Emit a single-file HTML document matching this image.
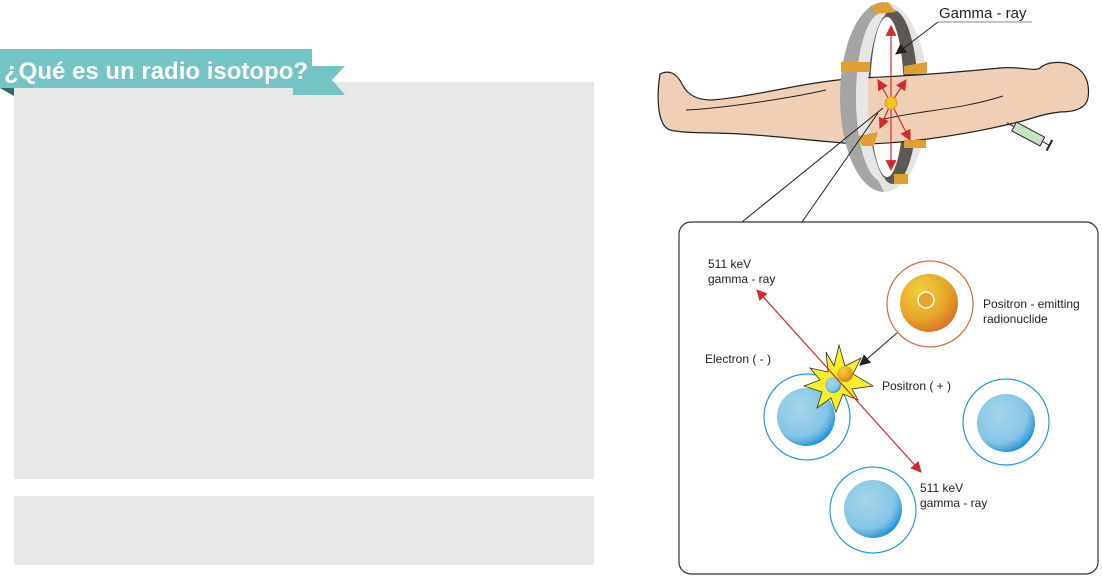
<!DOCTYPE html>
<html><head><meta charset="utf-8"><style>
html,body{margin:0;padding:0;background:#fff;width:1102px;height:576px;overflow:hidden}
svg{display:block}
text{font-family:"Liberation Sans",sans-serif;fill:#222}
</style></head><body>
<svg width="1102" height="576" viewBox="0 0 1102 576">
<defs>
<radialGradient id="bl" cx="0.38" cy="0.35" r="0.7"><stop offset="0" stop-color="#a6d6ec"/><stop offset="0.7" stop-color="#84c5e5"/><stop offset="0.85" stop-color="#55aadf"/><stop offset="1" stop-color="#0a8fd6"/></radialGradient>
<radialGradient id="or" cx="0.35" cy="0.3" r="0.8"><stop offset="0" stop-color="#f3cf3a"/><stop offset="0.6" stop-color="#e6a52a"/><stop offset="1" stop-color="#d4692a"/></radialGradient>
<marker id="ar" viewBox="0 0 10 10" refX="9" refY="5" markerUnits="userSpaceOnUse" markerWidth="11" markerHeight="11" orient="auto"><path d="M0,0L10,5L0,10z" fill="#d42a2a"/></marker>
<marker id="ak" viewBox="0 0 10 10" refX="9" refY="5" markerUnits="userSpaceOnUse" markerWidth="11" markerHeight="11" orient="auto"><path d="M0,0L10,5L0,10z" fill="#222"/></marker>
</defs>
<rect x="14" y="82" width="580" height="397" fill="#e7e8e7"/>
<rect x="14" y="496" width="580" height="69" fill="#e7e8e7"/>
<polygon points="0,88 14,88 14,96" fill="#2e6b6b"/>
<polygon points="293,88 312,88 293,95" fill="#2e6b6b"/>
<polygon points="293,66 345,66 332,80 345,95 293,95" fill="#74c4c4"/>
<rect x="0" y="49" width="312" height="39" fill="#74c4c4"/>
<text x="4" y="79" font-size="24" font-weight="bold" style="fill:#fff">¿Qué es un radio isotopo?</text>
<!-- ring back -->
<ellipse cx="884" cy="97" rx="44" ry="95" fill="#e4e4e4"/>
<ellipse cx="893" cy="97" rx="25" ry="87" fill="#5e5855"/>
<ellipse cx="887" cy="97" rx="17" ry="80" fill="#fff"/>
<!-- body -->
<path d="M660,74 C668,70 676,72 682,84 C688,96 698,100 712,100 C760,96 800,82 860,78 C910,76 960,72 1000,68 C1020,66 1035,72 1040,68 C1046,62 1062,60 1074,66 C1086,72 1090,84 1088,98 C1086,108 1075,112 1060,112 C1040,114 1030,120 1010,124 C960,136 900,144 860,144 C820,142 780,136 740,134 C710,132 688,134 670,130 C658,126 656,100 660,74 Z" fill="#efcfb6" stroke="#222" stroke-width="1.2"/>
<path d="M686,110 C730,108 800,96 826,90" fill="none" stroke="#222" stroke-width="1"/>
<path d="M880,120 C920,110 960,110 1003,96" fill="none" stroke="#222" stroke-width="1"/>
<g transform="rotate(28 1030 135)"><rect x="1012" y="130" width="32" height="10" fill="#c7e3c4" stroke="#222" stroke-width="1"/><line x1="1044" y1="135" x2="1052" y2="135" stroke="#222"/><line x1="1052" y1="129" x2="1052" y2="141" stroke="#222" stroke-width="2"/><line x1="1004" y1="135" x2="1012" y2="135" stroke="#222"/></g>
<!-- ring front left -->
<path d="M884,2 A44,95 0 0 0 884,192 L878,180 A26,84 0 0 1 878,14 Z" fill="#a5a5a3"/>
<path d="M878,14 A26,84 0 0 0 878,180 L886,178 A18,80 0 0 1 886,16 Z" fill="#e6e6e6"/>
<path d="M870,6 L888,2 L896,12 L876,14Z" fill="#e0a030"/>
<path d="M841,62 L870,62 L870,72 L841,72Z" fill="#e0a030"/>
<path d="M904,66 L927,62 L927,74 L904,74Z" fill="#e0a030"/>
<path d="M858,136 L878,132 L874,146 L862,146Z" fill="#e0a030"/>
<path d="M904,140 L926,140 L926,148 L904,148Z" fill="#e0a030"/>
<path d="M894,174 L908,174 L908,184 L894,184Z" fill="#e0a030"/>
<g stroke="#d42a2a" stroke-width="1.2" marker-end="url(#ar)">
<line x1="891" y1="103" x2="891" y2="26"/><line x1="891" y1="103" x2="891" y2="170"/>
<line x1="891" y1="103" x2="878" y2="80"/><line x1="891" y1="103" x2="906" y2="80"/>
<line x1="891" y1="103" x2="880" y2="128"/><line x1="891" y1="103" x2="910" y2="140"/>
</g>
<circle cx="891" cy="103" r="6" fill="#f2c21e" stroke="#e0a020"/>
<text x="939" y="18" font-size="15">Gamma - ray</text>
<line x1="938" y1="22" x2="1032" y2="22" stroke="#888"/>
<line x1="938" y1="22" x2="896" y2="54" stroke="#222" marker-end="url(#ak)"/>
<!-- callout -->
<rect x="679" y="222" width="419" height="352" rx="12" fill="#fff" stroke="#333" stroke-width="1.2"/>
<line x1="883" y1="108" x2="742" y2="222" stroke="#222" stroke-width="1"/>
<line x1="878" y1="113" x2="802" y2="222" stroke="#222" stroke-width="1"/>
<circle cx="930" cy="304" r="43" fill="none" stroke="#d56a3a" stroke-width="1.2"/>
<circle cx="929" cy="303" r="29" fill="url(#or)"/>
<circle cx="926" cy="300" r="8" fill="#e6a52a" stroke="#fff" stroke-width="1.5"/>
<circle cx="807" cy="417" r="43" fill="#fff" stroke="#1d9bd8" stroke-width="1.2"/>
<circle cx="806" cy="417" r="29" fill="url(#bl)"/>
<circle cx="1006" cy="422" r="43" fill="none" stroke="#1d9bd8" stroke-width="1.2"/>
<circle cx="1006" cy="423" r="29" fill="url(#bl)"/>
<circle cx="873" cy="510" r="43" fill="none" stroke="#1d9bd8" stroke-width="1.2"/>
<circle cx="873" cy="509" r="29" fill="url(#bl)"/>
<polygon points="839,345 845,366 861,358 853,374 873,386 852,389 858,400 843,394 836,412 831,398 817,408 822,392 804,386 820,380 810,368 828,372 826,352 834,366" fill="#f8ee2a" stroke="#333" stroke-width="0.8"/>
<circle cx="845" cy="374" r="8" fill="url(#or)"/>
<circle cx="833" cy="385" r="8" fill="url(#bl)"/>
<line x1="839" y1="381" x2="757" y2="290" stroke="#d42a2a" stroke-width="1.2" marker-end="url(#ar)"/>
<line x1="839" y1="381" x2="921" y2="472" stroke="#d42a2a" stroke-width="1.2" marker-end="url(#ar)"/>
<line x1="897" y1="333" x2="860" y2="365" stroke="#222" stroke-width="1" marker-end="url(#ak)"/>
<g font-size="12">
<text x="708" y="268">511 keV</text><text x="708" y="283">gamma - ray</text>
<text x="983" y="308">Positron  - emitting</text><text x="983" y="323">radionuclide</text>
<text x="705" y="363">Electron ( - )</text>
<text x="882" y="390">Positron ( + )</text>
<text x="920" y="492">511 keV</text><text x="920" y="507">gamma - ray</text>
</g>
</svg>
</body></html>
